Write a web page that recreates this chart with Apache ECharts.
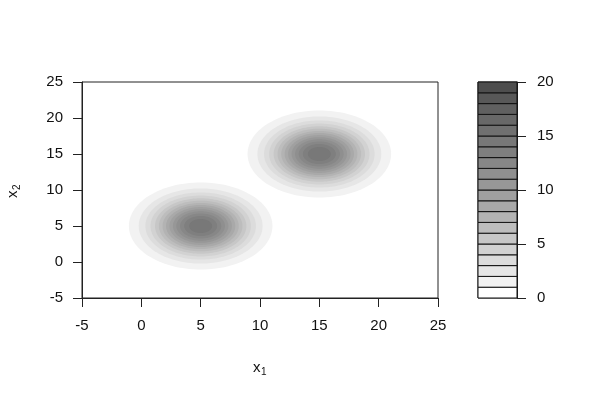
<!DOCTYPE html>
<html>
<head>
<meta charset="utf-8">
<script src="https://cdn.jsdelivr.net/npm/echarts@6/dist/echarts.min.js"></script>
<style>
  html, body { margin: 0; padding: 0; background: #fff; }
  #main { width: 600px; height: 400px; }
</style>
</head>
<body>
<div id="main"></div>
<script>
// bump centres (x1, x2)
var centerX = [5, 15]
var centerY = [5, 15]
// radius (data units) of contour line at level 1, 2, ... 14
var levelValues = [1, 2, 3, 4, 5, 6, 7, 8, 9, 10, 11, 12, 13, 14]
var levelRadii = [6.05, 5.22, 4.66, 4.23, 3.85, 3.52, 3.21, 2.92, 2.63, 2.34, 2.05, 1.74, 1.39, 0.97]
// fill colour of band [k, k+1], k = 0..19
var bandColors = [
  '#ffffff', '#f2f2f2', '#e6e6e6', '#dcdcdc', '#d2d2d2',
  '#c7c7c7', '#bdbdbd', '#b3b3b3', '#a9a9a9', '#a0a0a0',
  '#979797', '#8f8f8f', '#878787', '#7f7f7f', '#787878',
  '#707070', '#686868', '#606060', '#585858', '#4e4e4e'
]
var bandLevels = [0, 1, 2, 3, 4, 5, 6, 7, 8, 9, 10, 11, 12, 13, 14, 15, 16, 17, 18, 19]
var xTicks = [-5, 25, 5]
var yTicks = [-5, 25, 5]
var barTicks = [0, 20, 5]

var chart = echarts.init(document.getElementById('main'))

// one item per (bump, level)
var contourData = []
for (var b = 0; b < centerX.length; b++) {
  for (var k = 0; k < levelValues.length; k++) {
    contourData.push([centerX[b], centerY[b], levelRadii[k], levelValues[k]])
  }
}

var fontFam = 'Liberation Sans, Arial, sans-serif'
var axisStyle = { show: true, onZero: false, lineStyle: { color: '#222', width: 1 } }
var tickStyle = { show: true, inside: false, length: 9, lineStyle: { color: '#222', width: 1 } }
var labelStyle = { color: '#111', fontSize: 15, fontFamily: fontFam }

var option = {
  animation: false,
  backgroundColor: '#fff',
  grid: [
    { left: 82, right: 162, top: 82, bottom: 102, show: true, borderColor: '#222', borderWidth: 1 },
    { left: 478, width: 39, top: 82, height: 216, show: true, borderColor: '#222', borderWidth: 1 }
  ],
  xAxis: [
    {
      gridIndex: 0, type: 'value', min: xTicks[0], max: xTicks[1], interval: xTicks[2],
      axisLine: axisStyle, axisTick: tickStyle, splitLine: { show: false },
      axisLabel: Object.assign({ margin: 20 }, labelStyle)
    },
    { gridIndex: 1, type: 'value', min: 0, max: 1, show: false }
  ],
  yAxis: [
    {
      gridIndex: 0, type: 'value', min: yTicks[0], max: yTicks[1], interval: yTicks[2],
      axisLine: axisStyle, axisTick: tickStyle, splitLine: { show: false },
      axisLabel: Object.assign({ margin: 19 }, labelStyle)
    },
    {
      gridIndex: 1, type: 'value', position: 'right', min: barTicks[0], max: barTicks[1], interval: barTicks[2],
      axisLine: axisStyle, axisTick: tickStyle, splitLine: { show: false },
      axisLabel: Object.assign({ margin: 20 }, labelStyle)
    }
  ],
  series: [
    {
      // filled contours
      type: 'custom',
      xAxisIndex: 0, yAxisIndex: 0,
      clip: true,
      data: contourData,
      renderItem: function (params, api) {
        var c = api.coord([api.value(0), api.value(1)])
        var r = api.value(2)
        var s = api.size([r, r])
        var pts = []
        for (var i = 0; i < 120; i++) {
          var a = i / 120 * Math.PI * 2
          pts.push([c[0] + s[0] * Math.cos(a), c[1] + s[1] * Math.sin(a)])
        }
        return {
          type: 'polygon',
          shape: { points: pts },
          style: { fill: bandColors[api.value(3)], stroke: null }
        }
      }
    },
    {
      // colour key
      type: 'custom',
      xAxisIndex: 1, yAxisIndex: 1,
      data: bandLevels,
      renderItem: function (params, api) {
        var v = api.value(0)
        var p0 = api.coord([0, v + 1])
        var p1 = api.coord([1, v])
        return {
          type: 'rect',
          shape: { x: p0[0], y: p0[1], width: p1[0] - p0[0], height: p1[1] - p0[1] },
          style: { fill: bandColors[v], stroke: '#111', lineWidth: 1 }
        }
      }
    }
  ],
  graphic: [
    {
      type: 'group', left: 253, top: 360,
      children: [
        { type: 'text', x: 0, y: 0, style: { text: 'x', fontSize: 15, fontFamily: fontFam, fill: '#111' } },
        { type: 'text', x: 8, y: 7, style: { text: '1', fontSize: 10, fontFamily: fontFam, fill: '#111' } }
      ]
    },
    {
      type: 'group', x: 5, y: 198, rotation: Math.PI / 2,
      children: [
        { type: 'text', x: 0, y: 0, style: { text: 'x', fontSize: 15, fontFamily: fontFam, fill: '#111' } },
        { type: 'text', x: 8, y: 7, style: { text: '2', fontSize: 10, fontFamily: fontFam, fill: '#111' } }
      ]
    }
  ]
}

chart.setOption(option)
</script>
</body>
</html>
